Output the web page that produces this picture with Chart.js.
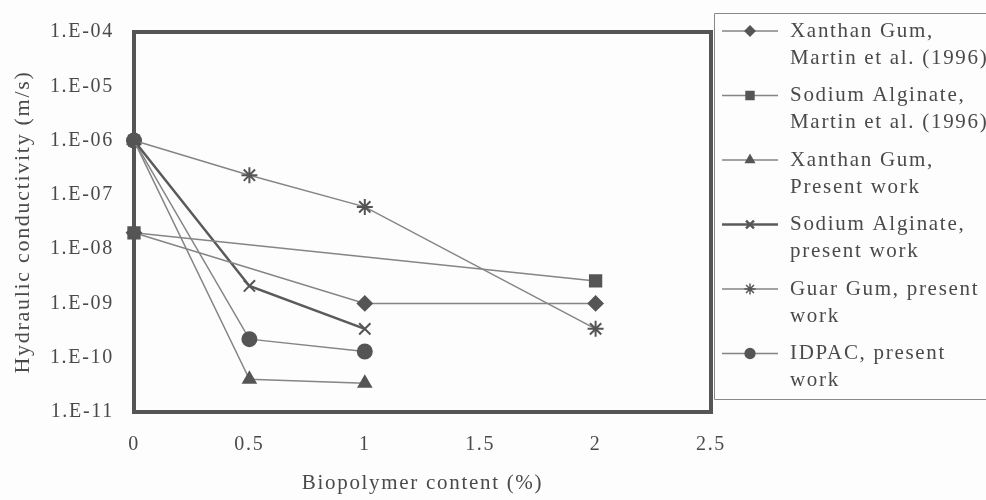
<!DOCTYPE html>
<html>
<head>
<meta charset="utf-8">
<script src="https://cdn.jsdelivr.net/npm/chart.js@4/dist/chart.umd.min.js"></script>
<style>
  html, body { margin: 0; padding: 0; background: #fdfdfd; }
  #wrap { width: 986px; height: 500px; position: relative; }
</style>
</head>
<body>
<div id="wrap"><canvas id="chart" width="986" height="500"></canvas></div>
<script>
// values (x = biopolymer %, y = m/s)
const xanthanMartinX = [0, 1, 2];
const xanthanMartinY = [2e-8, 1e-9, 1e-9];
const alginateMartinX = [0, 2];
const alginateMartinY = [2e-8, 2.6e-9];
const xanthanPresentX = [0, 0.5, 1];
const xanthanPresentY = [1e-6, 4e-11, 3.4e-11];
const alginatePresentX = [0, 0.5, 1];
const alginatePresentY = [1e-6, 2.1e-9, 3.4e-10];
const guarX = [0, 0.5, 1, 2];
const guarY = [1e-6, 2.3e-7, 6e-8, 3.4e-10];
const idpacX = [0, 0.5, 1];
const idpacY = [1e-6, 2.2e-10, 1.3e-10];

const legendLabels = [
  ["Xanthan Gum,", "Martin et al. (1996)"],
  ["Sodium Alginate,", "Martin et al. (1996)"],
  ["Xanthan Gum,", "Present work"],
  ["Sodium Alginate,", "present work"],
  ["Guar Gum, present", "work"],
  ["IDPAC, present", "work"],
];
const yTickValues = [1e-4, 1e-5, 1e-6, 1e-7, 1e-8, 1e-9, 1e-10, 1e-11];
const yTickLabels = ["1.E-04", "1.E-05", "1.E-06", "1.E-07", "1.E-08", "1.E-09", "1.E-10", "1.E-11"];
const xTickValues = [0, 0.5, 1, 1.5, 2, 2.5];

const FONT = "'Liberation Serif', 'DejaVu Serif', serif";
const TEXT = "#4a4a4a";
const LINE = "#858585";
const MARK = "#555555";
const SPACING = "1.7px";

function points(xs, ys) {
  return xs.map((x, i) => ({ x, y: ys[i] }));
}

function series(label, xs, ys, style, radius, extra = {}) {
  return {
    label,
    data: points(xs, ys),
    showLine: true,
    borderColor: LINE,
    borderWidth: 1.5,
    pointStyle: style,
    pointRadius: radius,
    pointBackgroundColor: MARK,
    pointBorderColor: MARK,
    pointBorderWidth: 2,
    clip: false,
    ...extra,
  };
}

const datasets = [
  series(legendLabels[0], xanthanMartinX, xanthanMartinY, "rectRot", 7),
  series(legendLabels[1], alginateMartinX, alginateMartinY, "rect", 8),
  series(legendLabels[2], xanthanPresentX, xanthanPresentY, "triangle", 7),
  series(legendLabels[3], alginatePresentX, alginatePresentY, "crossRot", 8, { borderColor: "#5a5a5a", borderWidth: 2.5 }),
  series(legendLabels[4], guarX, guarY, "star", 8),
  series(legendLabels[5], idpacX, idpacY, "circle", 7),
];

// the scanned text is loosely spaced; canvas state gets reset on resize so set it each pass
const spacing = {
  id: "spacing",
  beforeUpdate(chart) { chart.ctx.letterSpacing = SPACING; },
  beforeDraw(chart) { chart.ctx.letterSpacing = SPACING; },
};

const frame = {
  id: "frame",
  beforeDatasetsDraw(chart) {
    const { ctx, chartArea: a } = chart;
    ctx.save();
    ctx.strokeStyle = "#555";
    ctx.lineWidth = 4;
    ctx.strokeRect(a.left, a.top, a.right - a.left, a.bottom - a.top);
    ctx.restore();
  },
};

const sideLegend = {
  id: "sideLegend",
  afterDraw(chart) {
    const ctx = chart.ctx;
    const boxLeft = 714, boxTop = 13, boxBottom = 399;
    ctx.save();
    ctx.letterSpacing = SPACING;
    ctx.strokeStyle = "#888";
    ctx.lineWidth = 1;
    ctx.beginPath();
    ctx.moveTo(990, boxTop + 0.5);
    ctx.lineTo(boxLeft + 0.5, boxTop + 0.5);
    ctx.lineTo(boxLeft + 0.5, boxBottom + 0.5);
    ctx.lineTo(990, boxBottom + 0.5);
    ctx.stroke();

    ctx.font = "21px " + FONT;
    ctx.textBaseline = "middle";
    chart.data.datasets.forEach((ds, i) => {
      const y = 31 + i * 64.5;
      ctx.strokeStyle = ds.borderColor;
      ctx.lineWidth = ds.borderWidth;
      ctx.beginPath();
      ctx.moveTo(722, y);
      ctx.lineTo(778, y);
      ctx.stroke();
      ctx.fillStyle = MARK;
      ctx.strokeStyle = MARK;
      Chart.helpers.drawPoint(ctx, {
        pointStyle: ds.pointStyle,
        radius: ds.pointRadius * 0.7,
        borderWidth: 2,
        rotation: 0,
      }, 750, y);
      ctx.fillStyle = TEXT;
      ds.label.forEach((line, j) => ctx.fillText(line, 790, y + j * 27));
    });
    ctx.restore();
  },
};

new Chart(document.getElementById("chart"), {
  type: "scatter",
  data: { datasets },
  plugins: [spacing, frame, sideLegend],
  options: {
    responsive: false,
    animation: false,
    layout: { padding: { top: 20, right: 275, left: 0, bottom: 0 } },
    plugins: { legend: { display: false }, tooltip: { enabled: false } },
    scales: {
      x: {
        type: "linear",
        min: 0,
        max: 2.5,
        afterFit(scale) { scale.height = 88; },
        afterBuildTicks(scale) { scale.ticks = xTickValues.map((value) => ({ value })); },
        grid: { display: false, drawTicks: false },
        border: { display: false },
        ticks: {
          padding: 21,
          color: TEXT,
          font: { family: FONT, size: 20 },
          callback: (v) => String(v),
        },
        title: {
          display: true,
          text: "Biopolymer content (%)",
          color: TEXT,
          font: { family: FONT, size: 21 },
          padding: { top: 4, bottom: 4 },
        },
      },
      y: {
        type: "logarithmic",
        min: 1e-11,
        max: 1e-4,
        afterFit(scale) { scale.width = 134; },
        afterBuildTicks(scale) { scale.ticks = yTickValues.map((value) => ({ value })); },
        grid: { display: false, drawTicks: false },
        border: { display: false },
        ticks: {
          padding: 20,
          color: TEXT,
          font: { family: FONT, size: 20 },
          callback: (v) => yTickLabels[yTickValues.findIndex((t) => Math.abs(Math.log10(t) - Math.log10(v)) < 1e-6)],
        },
        title: {
          display: true,
          text: "Hydraulic conductivity (m/s)",
          color: TEXT,
          font: { family: FONT, size: 22 },
          padding: { top: 10, bottom: 4 },
        },
      },
    },
  },
});
</script>
</body>
</html>
